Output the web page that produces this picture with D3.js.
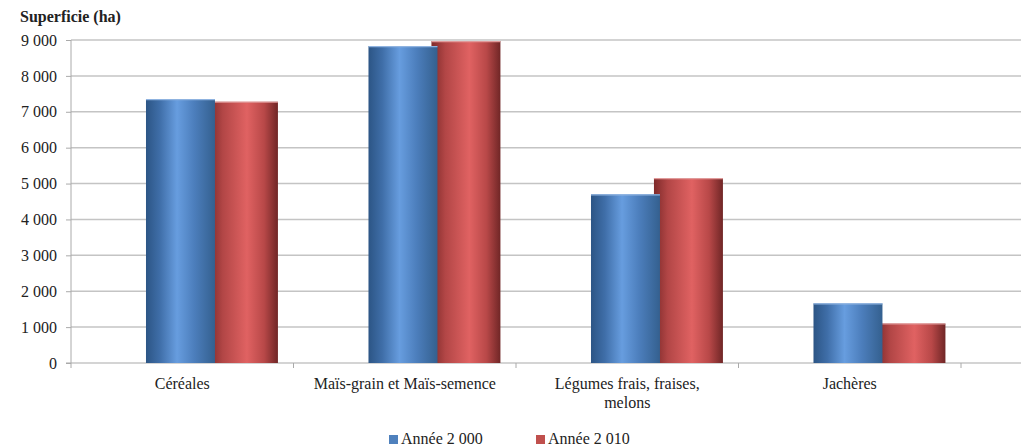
<!DOCTYPE html>
<html><head><meta charset="utf-8">
<script src="https://cdn.jsdelivr.net/npm/d3@7"></script>
<style>body{margin:0;background:#fff;} svg{display:block;}</style>
</head><body>
<svg id="chart" width="1021" height="448"></svg>
<script>
const categories = [["Céréales"], ["Maïs-grain et Maïs-semence"], ["Légumes frais, fraises,", "melons"], ["Jachères"]];
const seriesNames = ["Année 2 000", "Année 2 010"];
const values2000 = [7350, 8830, 4700, 1660];
const values2010 = [7280, 8970, 5150, 1100];
const yTicks = [0, 1000, 2000, 3000, 4000, 5000, 6000, 7000, 8000, 9000];

const FONT = "Liberation Serif";
const svg = d3.select("#chart");
const W = 1021, H = 448;
const x0 = d3.scaleBand().domain(d3.range(categories.length)).range([71, 961]).padding(0);
const y = d3.scaleLinear().domain([0, 9000]).range([363, 40]);
const fmt = v => v === 0 ? "0" : d3.format(",")(v).replace(/,/g, " ");

const defs = svg.append("defs");
function grad(id, stops) {
  const g = defs.append("linearGradient").attr("id", id).attr("x1", 0).attr("x2", 1).attr("y1", 0).attr("y2", 0);
  stops.forEach(s => g.append("stop").attr("offset", s[0]).attr("stop-color", s[1]));
}
grad("gBlue", [[0, "#2c5585"], [0.2, "#3f6ea8"], [0.45, "#679ddf"], [0.7, "#4c7ebc"], [1, "#34608f"]]);
grad("gRed", [[0, "#7e2a2a"], [0.2, "#b24646"], [0.55, "#e06262"], [0.8, "#b84848"], [1, "#702626"]]);

// gridlines
svg.append("g").selectAll("line").data(yTicks.filter(d => d > 0)).join("line")
  .attr("x1", 71).attr("x2", W).attr("y1", d => y(d)).attr("y2", d => y(d))
  .attr("stroke", "#c4c4c4").attr("stroke-width", 1.5);

// y axis
const yAxis = d3.axisLeft(y).tickValues(yTicks).tickFormat(fmt).tickSize(5).tickPadding(9);
const gy = svg.append("g").attr("transform", "translate(71,0)").call(yAxis);
gy.attr("font-family", FONT).attr("font-size", 16);
gy.select(".domain").attr("stroke", "#aaa").attr("d", "M0,40V363");
gy.selectAll(".tick line").attr("stroke", "#aaa");
gy.selectAll("text").style("font-family", FONT).style("font-size", "16px").attr("fill", "#222");

// x axis baseline and category ticks
const gx = svg.append("g").attr("transform", "translate(0,363)");
gx.append("line").attr("x1", 66).attr("x2", W).attr("y1", 0).attr("y2", 0).attr("stroke", "#aaa").attr("stroke-width", 1.2);
gx.selectAll("line.tk").data(d3.range(categories.length + 1)).join("line").attr("class", "tk")
  .attr("x1", i => i < categories.length ? x0(i) : x0.range()[1])
  .attr("x2", i => i < categories.length ? x0(i) : x0.range()[1])
  .attr("y1", 0).attr("y2", 5).attr("stroke", "#aaa");

// bars
const bw = x0.bandwidth();
const inner = d3.scaleBand().domain([0, 1]).range([0.337 * bw, 0.93 * bw]).padding(0);
[1, 0].forEach(s => {
  const vals = s === 0 ? values2000 : values2010;
  const g = svg.append("g");
  const bx = i => x0(i) + inner(s) - (s === 1 ? 3 : 0);
  g.selectAll("rect").data(vals).join("rect")
    .attr("x", (d, i) => bx(i))
    .attr("width", inner.bandwidth() + 3)
    .attr("y", d => y(d))
    .attr("height", d => y(0) - y(d))
    .attr("fill", s === 0 ? "url(#gBlue)" : "url(#gRed)");
  g.selectAll("line").data(vals).join("line")
    .attr("x1", (d, i) => bx(i))
    .attr("x2", (d, i) => bx(i) + inner.bandwidth() + 3)
    .attr("y1", d => y(d) + 0.5).attr("y2", d => y(d) + 0.5)
    .attr("stroke", s === 0 ? "#8fb3e0" : "#e09a9a").attr("stroke-width", 1.2);
});

// category labels
const cl = svg.append("g");
categories.forEach((lines, i) => {
  const t = cl.append("text").attr("text-anchor", "middle").style("font-family", FONT)
    .attr("x", x0(i) + bw / 2).attr("y", 389).style("font-size", "16px").attr("fill", "#222");
  lines.forEach((ln, j) => t.append("tspan").attr("x", x0(i) + bw / 2).attr("dy", j === 0 ? 0 : 19).text(ln));
});

// title
svg.append("text").attr("x", 20).attr("y", 22).style("font-family", FONT).style("font-size", "16px")
  .style("font-weight", "bold").attr("fill", "#222").text("Superficie (ha)");

// legend
const legX = [389, 536];
const leg = svg.append("g");
seriesNames.forEach((n, i) => {
  leg.append("rect").attr("x", legX[i]).attr("y", 435).attr("width", 9).attr("height", 9)
    .attr("fill", i === 0 ? "#4f81bd" : "#c0504d");
  leg.append("text").attr("x", legX[i] + 12).attr("y", 444).style("font-family", FONT).style("font-size", "16px")
    .attr("fill", "#222").text(n);
});
</script>
</body></html>
